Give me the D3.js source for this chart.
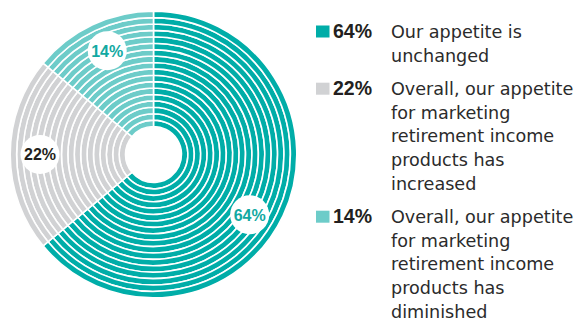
<!DOCTYPE html>
<html>
<head>
<meta charset="utf-8">
<script src="https://cdn.jsdelivr.net/npm/d3@7"></script>
<style>
  html, body { margin: 0; padding: 0; background: #fff; }
  svg { display: block; }
</style>
</head>
<body>
<svg id="chart" width="580" height="322"></svg>
<script>
// Survey answers: how has the appetite for marketing retirement income products changed?
const shares = [64, 22, 14];
const shareLabels = ["64%", "22%", "14%"];
const sliceColors = ["#00ada8", "#d1d2d4", "#6dccc9"];
const labelColors = ["#12a9a2", "#231f20", "#12a9a2"];
const legendLines = [
  ["Our appetite is", "unchanged"],
  ["Overall, our appetite", "for marketing", "retirement income", "products has", "increased"],
  ["Overall, our appetite", "for marketing", "retirement income", "products has", "diminished"]
];

const svg = d3.select("#chart");

// Donut geometry
const cx = 153.5, cy = 154.5;
const innerR = 28, outerR = 143.3;
const ringCount = 18;
const gap = 1.6;

const pie = d3.pie().sort(null).value(d => d);
const slices = pie(shares);

const radius = d3.scaleLinear().domain([0, ringCount]).range([innerR, outerR]);

const g = svg.append("g").attr("transform", `translate(${cx},${cy})`);

// Each slice is cut into concentric rings separated by thin white gaps
const rings = [];
slices.forEach((s, si) => {
  d3.range(ringCount).forEach(i => {
    rings.push({ slice: s, index: si, r0: radius(i), r1: radius(i + 1) });
  });
});

const arc = d3.arc();
g.selectAll("path.ring")
  .data(rings)
  .join("path")
  .attr("class", "ring")
  .attr("d", d => arc({
    innerRadius: d.r0,
    outerRadius: d.r1,
    startAngle: d.slice.startAngle,
    endAngle: d.slice.endAngle
  }))
  .attr("fill", d => sliceColors[d.index])
  .attr("stroke", "#fff")
  .attr("stroke-width", gap);

// Value badges: white discs sitting on the second-outermost rings
const labelR = 113.5;
const labelShift = [0.12, 0, 0.02]; // small angular nudges (radians) to keep badges clear
const badges = g.selectAll("g.badge")
  .data(slices)
  .join("g")
  .attr("class", "badge")
  .attr("transform", (d, i) => {
    const a = (d.startAngle + d.endAngle) / 2 + labelShift[i];
    return `translate(${labelR * Math.sin(a)},${-labelR * Math.cos(a)})`;
  });

badges.append("circle")
  .attr("r", 19.5)
  .attr("fill", "#fff");

badges.append("text")
  .attr("text-anchor", "middle")
  .attr("dy", "0.36em")
  .attr("font-family", "Liberation Sans, Arial, sans-serif")
  .attr("font-weight", "bold")
  .attr("font-size", 16)
  .attr("fill", (d, i) => labelColors[i])
  .text((d, i) => shareLabels[i]);

// Legend
const legendX = 316;
const lineH = 23.6;
const entryGap = 10;
let baseline = 38;
const legend = svg.append("g");
legendLines.forEach((lines, i) => {
  const entry = legend.append("g");
  entry.append("rect")
    .attr("x", legendX)
    .attr("y", baseline - 12.5)
    .attr("width", 13.5)
    .attr("height", 12)
    .attr("fill", sliceColors[i]);
  entry.append("text")
    .attr("x", legendX + 17)
    .attr("y", baseline)
    .attr("font-family", "Liberation Sans, Arial, sans-serif")
    .attr("font-weight", "bold")
    .attr("font-size", 19.5)
    .attr("fill", "#231f20")
    .text(shareLabels[i]);
  const desc = entry.append("text")
    .attr("font-family", "DejaVu Sans, sans-serif")
    .attr("font-size", 17.6)
    .attr("fill", "#2b2b2b");
  lines.forEach((line, j) => {
    desc.append("tspan")
      .attr("x", 391)
      .attr("y", baseline + j * lineH)
      .text(line);
  });
  baseline += lines.length * lineH + entryGap;
});
</script>
</body>
</html>
